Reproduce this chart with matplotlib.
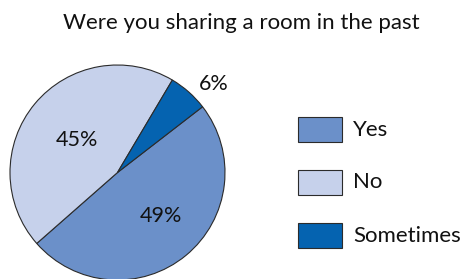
import matplotlib
matplotlib.use("Agg")
import matplotlib.pyplot as plt
from matplotlib.patches import Rectangle

plt.rcParams['font.family'] = ['Lato', 'DejaVu Sans']

categories = ["Yes", "No", "Sometimes"]
shares = [49, 45, 6]
colors = ["#6b90c9", "#c6d1eb", "#0563b0"]
pct_labels = ["49%", "45%", "6%"]

W, H = 465, 279
fig = plt.figure(figsize=(W / 100, H / 100), dpi=100)
ax = fig.add_axes([10 / W, -1 / H, 215 / W, 215 / H])

wedges, _ = ax.pie(shares, colors=colors, startangle=37.7, counterclock=False,
                   wedgeprops=dict(edgecolor="#2b2b2b", linewidth=0.8))
for w in wedges:
    w.set_clip_on(False)
ax.set_xlim(-1, 1)
ax.set_ylim(-1, 1)
ax.set_aspect("equal")

# label positions (data coords, radius = 1)
label_pos = [(0.405, -0.405), (-0.377, 0.302), (0.898, 0.823)]
for txt, (x, y) in zip(pct_labels, label_pos):
    ax.text(x, y, txt, ha="center", va="center", fontsize=15.5, color="#111111")

fig.text(241 / W, 1 - 23 / H, "Were you sharing a room in the past", ha="center",
         va="center", fontsize=16, color="#111111")

# legend drawn by hand in pixel positions
for i, (lab, c) in enumerate(zip(categories, colors)):
    top = 117 + 53 * i
    fig.add_artist(Rectangle((298 / W, 1 - (top + 25) / H), 44 / W, 25 / H,
                             facecolor=c, edgecolor="#2b2b2b", linewidth=0.8,
                             transform=fig.transFigure))
    fig.text(353 / W, 1 - (top + 12.5) / H, lab, ha="left", va="center",
             fontsize=16, color="#111111")

fig.savefig("out.png", dpi=100)
